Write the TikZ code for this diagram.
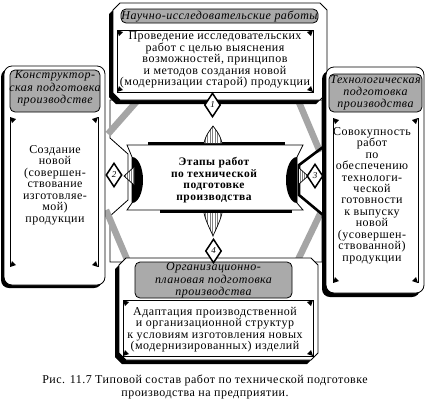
\documentclass[tikz,border=0pt]{standalone}
\usepackage{fontspec}
\setmainfont{Liberation Serif}[LetterSpace=4]
\usetikzlibrary{shapes.geometric}
\definecolor{hdrgray}{RGB}{170,170,170}
\definecolor{bandgray}{RGB}{165,165,165}
\tikzset{
  hdrbox/.style={draw=black, fill=hdrgray, rounded corners=5pt, line width=0.8pt, inner sep=0pt},
  bodytxt/.style={align=center, inner sep=0pt, font=\fontsize{12}{11.45}\selectfont},
  hdrtxt/.style={align=center, inner sep=0pt, font=\fontsize{12}{12.3}\selectfont\itshape},
  boxframe/.style={draw=black, fill=white, line width=0.8pt},
  boxshadow/.style={fill=black},
  thinline/.style={draw=black, line width=0.7pt},
  numdiam/.style={shape=diamond, draw=black, fill=white, line width=1.5pt, inner sep=0pt,
     minimum width=16pt, minimum height=24pt, font=\fontsize{9}{9}\selectfont\itshape},
  grayband/.style={draw=bandgray, line width=6.5pt},
  cornertri/.style={fill=black},
  stripe/.style={draw=gray, line width=0.5pt},
}
\newcommand\CornerTri[4]{\fill[cornertri] (#1,#2) -- ++(6*#3,2*#4) -- ++(-4*#3,4*#4) -- cycle;}
\begin{document}
\begin{tikzpicture}[x=1pt,y=-1pt]
\useasboundingbox (0,0) rectangle (426,400);
\fill[white] (0,0) rectangle (426,400);

% ---- central frame ----
\path[boxframe] (110,100) -- (323,100) -- (323,147) -- (299,165) -- (299,195) -- (323,215)
   -- (323,262) -- (110,262) -- (110,216) -- (128,200) -- (128,154) -- (110,138) -- cycle;

% gray bands
\draw[grayband] (138,100) -- (108,134);
\draw[grayband] (298,100) -- (320,152);
\draw[grayband] (106,210) -- (129,264);
\draw[grayband] (321,212) -- (296,264);

% thick right border of central frame
\draw[line width=2.6pt] (323,100) -- (323,147) -- (299,165) -- (299,195) -- (323,215) -- (323,262);

% ---- top box ----
\fill[boxshadow] (109,14) -- (116,7) -- (316,7) -- (323,14) -- (323,97) -- (316,104) -- (116,104) -- (109,97) -- cycle;
\path[boxframe] (113,10) -- (120,3) -- (320,3) -- (327,10) -- (327,93) -- (320,100) -- (120,100) -- (113,93) -- cycle;
\node[hdrbox, minimum width=197pt, minimum height=14pt] (h1) at (219.5,16) {};
\node[hdrtxt] (h1t) at (219.5,16) {Научно-исследовательские работы};
\draw[thinline] (117,30) rectangle (313,92);
\CornerTri{117}{30}{1}{1}\CornerTri{313}{30}{-1}{1}\CornerTri{117}{92}{1}{-1}\CornerTri{313}{92}{-1}{-1}
\node[bodytxt] (t1) at (215,60) {Проведение исследовательских\\работ с целью выяснения\\возможностей, принципов\\и методов создания новой\\(модернизации старой) продукции};

% ---- left box ----
\fill[boxshadow, rounded corners=8pt] (1,69) rectangle (102,288);
\path[boxframe, rounded corners=8pt] (4,66) rectangle (105,285);
\node[hdrbox, minimum width=90pt, minimum height=42pt] (h2) at (55,91) {};
\node[hdrtxt] (h2t) at (55,88.5) {Конструктор-\\ская подготовка\\производстве};
\draw[thinline] (10,117) -- (10,267);
\draw[thinline] (98,117) -- (98,267);
\CornerTri{10}{117}{1}{1}\CornerTri{98}{117}{-1}{1}\CornerTri{10}{267}{1}{-1}\CornerTri{98}{267}{-1}{-1}
\node[bodytxt] (t2) at (55,185) {Создание\\новой\\(совершен-\\ствование\\изготовляе-\\мой)\\продукции};

% ---- right box ----
\fill[boxshadow, rounded corners=8pt] (322,71) rectangle (420,297);
\path[boxframe, rounded corners=8pt] (326,67) rectangle (424,293);
\node[hdrbox, minimum width=93pt, minimum height=38pt] (h3) at (375.5,93) {};
\node[hdrtxt] (h3t) at (375.5,93) {Технологическая\\подготовка\\производства};
\draw[thinline] (333,118) -- (333,283);
\draw[thinline] (418,118) -- (418,283);
\CornerTri{333}{118}{1}{1}\CornerTri{418}{118}{-1}{1}\CornerTri{333}{283}{1}{-1}\CornerTri{418}{283}{-1}{-1}
\node[bodytxt] (t3) at (372,195.5) {Совокупность\\работ\\по\\обеспечению\\технологи-\\ческой\\готовности\\к выпуску\\новой\\(усовершен-\\ствованной)\\продукции};

% ---- bottom box ----
\fill[boxshadow] (115,269) -- (122,262) -- (307,262) -- (314,269) -- (314,357) -- (307,364) -- (122,364) -- (115,357) -- cycle;
\path[boxframe] (119,265) -- (126,258) -- (311,258) -- (318,265) -- (318,353) -- (311,360) -- (126,360) -- (119,353) -- cycle;
\node[hdrbox, minimum width=157pt, minimum height=36pt] (h4) at (213.5,280) {};
\node[hdrtxt] (h4t) at (213.5,280.5) {Организационно-\\плановая подготовка\\производства};
\draw[thinline] (123,300) rectangle (313,356);
\CornerTri{123}{300}{1}{1}\CornerTri{313}{300}{-1}{1}\CornerTri{123}{356}{1}{-1}\CornerTri{313}{356}{-1}{-1}
\node[bodytxt] (t4) at (215,329.5) {Адаптация производственной\\и организационной структур\\к условиям изготовления новых\\(модернизированных) изделий};

% ---- central banner ----
\path[boxframe] (127,145) -- (303,145) -- (297,157) -- (297,203) -- (303,210) -- (127,210) -- (132,203) -- (132,157) -- cycle;
\begin{scope}
  \clip (132,150) rectangle (150,210);
  \fill (132,180) ellipse [x radius=11, y radius=23];
\end{scope}
\begin{scope}
  \clip (280,150) rectangle (297,210);
  \fill (297,180) ellipse [x radius=11, y radius=23];
\end{scope}
\draw[line width=3pt] (148,143.5) -- (285,143.5);
\draw[line width=3pt] (160,211.5) -- (292,211.5);
\node[align=center, inner sep=0pt, font=\fontsize{11.5}{11.6}\selectfont\bfseries] (ban) at (214,180) {Этапы работ\\по технической\\подготовке\\производства};

% ---- striped spikes ----
\begin{scope}
  \clip (204,143) .. controls (206,134) and (211,129) .. (213,126) .. controls (215,129) and (220,134) .. (222,143) -- cycle;
  \fill[white] (200,120) rectangle (226,146);
  \foreach \i in {205,207.5,...,221} \draw[stripe] (\i,120) -- (\i,146);
\end{scope}
\draw[thinline] (204,143) .. controls (206,134) and (211,129) .. (213,126) .. controls (215,129) and (220,134) .. (222,143);
\begin{scope}
  \clip (204,213) .. controls (206,222) and (211,231) .. (213,236) .. controls (215,231) and (220,222) .. (222,213) -- cycle;
  \fill[white] (200,212) rectangle (226,240);
  \foreach \i in {205,207.5,...,221} \draw[stripe] (\i,210) -- (\i,240);
\end{scope}
\draw[thinline] (204,213) .. controls (206,222) and (211,231) .. (213,236) .. controls (215,231) and (220,222) .. (222,213);
\begin{scope}
  \clip (134,167) -- (124,176) -- (134,185) -- cycle;
  \fill[white] (120,165) rectangle (136,187);
  \foreach \i in {125,127,...,134} \draw[stripe] (\i,165) -- (\i,187);
\end{scope}
\draw[thinline] (134,167) -- (124,176) -- (134,185);
\begin{scope}
  \clip (299,168) -- (308,176) -- (299,184) -- cycle;
  \fill[white] (297,165) rectangle (310,187);
  \foreach \i in {300,302,...,308} \draw[stripe] (\i,165) -- (\i,187);
\end{scope}
\draw[thinline] (299,168) -- (308,176) -- (299,184);

% ---- numbered diamonds ----
\node[numdiam] (d1) at (212.5,105) {1};
\node[numdiam] (d2) at (114,175) {2};
\node[numdiam] (d3) at (315,176) {3};
\node[numdiam] (d4) at (213.5,251) {4};

% ---- caption ----
\node[align=center, inner sep=0pt, font=\fontsize{12}{13}\selectfont] (cap) at (205,387) {Рис. 11.7 Типовой состав работ по технической подготовке\\производства на предприятии.};
\end{tikzpicture}
\end{document}
